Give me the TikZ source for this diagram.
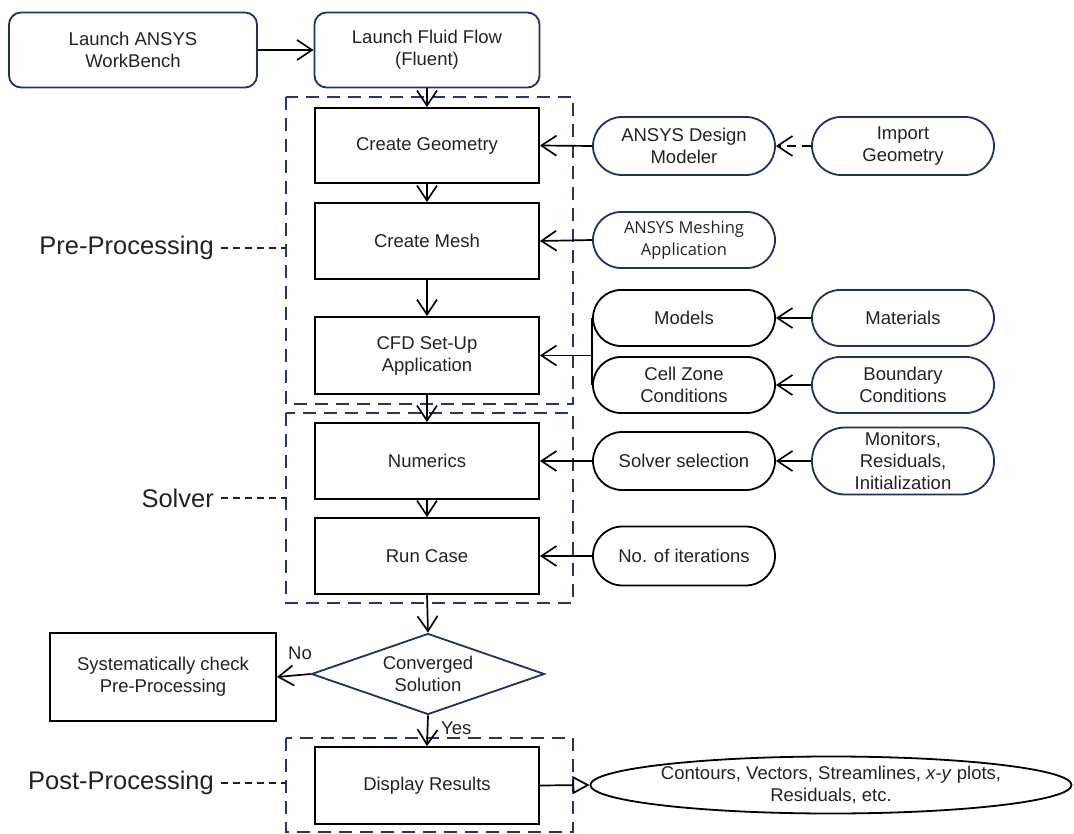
\documentclass[tikz,border=0pt]{standalone}
\usepackage{fontspec}
\setmainfont{Liberation Sans}
\newfontfamily\meshfont{Open Sans}
\usetikzlibrary{arrows.meta,shapes.geometric}
\definecolor{navy}{HTML}{22305E}
\definecolor{dashnavy}{HTML}{2A3468}
\definecolor{txt}{HTML}{222222}
\begin{document}
\begin{tikzpicture}[x=1pt,y=-1pt,
  font=\fontsize{18.5}{22}\selectfont, text=txt,
  every node/.style={align=center, inner sep=0pt},
  launchbox/.style={draw=navy, line width=1.8pt, rounded corners=12pt, minimum width=#1, minimum height=75pt},
  mainbox/.style={draw=black, line width=1.8pt, minimum width=224pt, minimum height=#1},
  pill/.style={draw=#1, line width=1.8pt, rounded corners=28pt, minimum width=182pt, minimum height=56pt},
  pilltall/.style={draw=#1, line width=1.8pt, rounded corners=33pt, minimum width=182pt, minimum height=67pt},
  arr/.style={line width=1.7pt, -{Straight Barb[length=15pt,width=20pt,line width=1.7pt]}},
  grp/.style={draw=dashnavy, line width=1.8pt, dash pattern=on 13pt off 8pt},
  lead/.style={draw=txt, line width=1.2pt, dash pattern=on 7pt off 5pt},
  grplabel/.style={font=\fontsize{25.5}{30}\selectfont, anchor=east}
]
\useasboundingbox (0,0) rectangle (1074,834);

% group boxes
\draw[grp] (286,97) rectangle (573,404);
\draw[grp] (286,413) rectangle (573,603);
\draw[grp] (286,738) rectangle (573,832);

% top row
\node[launchbox=248pt] (wb) at (133,50) {Launch ANSYS\\WorkBench};
\node[launchbox=225pt] (ff) at (427,50) {Launch Fluid Flow\\(Fluent)};

% main column
\node[mainbox=75pt] (cg) at (427,145.5) {Create Geometry};
\node[mainbox=76pt] (cm) at (427,241) {Create Mesh};
\node[mainbox=77pt] (cfd) at (427,355.5) {CFD Set-Up\\Application};
\node[mainbox=76pt] (num) at (427,461) {Numerics};
\node[mainbox=76pt] (rc) at (427,556) {Run Case};
\node[draw=navy, line width=1.8pt, diamond, aspect=2.88, minimum width=233pt, minimum height=81pt] (dia) at (428,674) {Converged\\Solution};
\node[draw=black, line width=1.8pt, minimum width=226pt, minimum height=88pt] (sys) at (163,677) {Systematically check\\Pre-Processing};
\node[mainbox=77pt] (dr) at (427,785.5) {Display Results};
\node[draw=black, line width=1.8pt, ellipse, minimum width=480pt, minimum height=57pt] (ell) at (831,785) {Contours, Vectors, Streamlines, \textit{x-y} plots,\\Residuals, etc.};

% side pills
\node[pill=navy, minimum height=58pt, rounded corners=29pt] (dm) at (684,146) {ANSYS Design\\Modeler};
\node[pill=navy, minimum height=58pt, rounded corners=29pt] (imp) at (903,146) {Import\\Geometry};
\node[pill=navy] (mesh) at (684,240) {\meshfont\fontsize{16.5}{22}\selectfont ANSYS Meshing\\\meshfont\fontsize{16.5}{22}\selectfont Application};
\node[pill=black] (models) at (684,318) {Models};
\node[pill=navy] (mat) at (903,318) {Materials};
\node[pill=black] (cz) at (684,385) {Cell Zone\\Conditions};
\node[pill=navy] (bc) at (903,385) {Boundary\\Conditions};
\node[pill=black, minimum height=58pt, rounded corners=29pt] (sol) at (684,461) {Solver selection};
\node[pilltall=navy] (mon) at (903,461) {Monitors,\\Residuals,\\Initialization};
\node[pill=black, minimum height=59pt, rounded corners=29.5pt] (iter) at (684,556) {No. of iterations};

% group labels
\node[grplabel] (lpre) at (214,248) {Pre-Processing};
\node[grplabel] (lsol) at (214,498) {Solver};
\node[grplabel] (lpost) at (214,783) {Post-Processing};
\coordinate (gpre) at (286,248);
\coordinate (gsol) at (286,498);
\coordinate (gpost) at (286,783);
\draw[lead] ([xshift=7pt]lpre.east) -- (gpre);
\draw[lead] ([xshift=7pt]lsol.east) -- (gsol);
\draw[lead] ([xshift=7pt]lpost.east) -- (gpost);

% connectors
\draw[arr] (wb.east) -- (ff.west);
\draw[arr] (ff.south) -- (cg.north);
\draw[arr] (cg.south) -- (cm.north);
\draw[arr] (cm.south) -- (cfd.north);
\draw[arr] (cfd.south) -- (num.north);
\draw[arr] (num.south) -- (rc.north);
\draw[arr] (rc.south) -- (dia.north);
\draw[arr] (dia.south) -- (dr.north);
\node[anchor=west] (yes) at (441,728) {Yes};
\draw[arr] (dia.west) -- (sys.east);
\node (no) at (300,653) {No};

\draw[arr] (dm.west) -- (cg.east);
\draw[arr, dash pattern=on 9pt off 6pt] (imp.west) -- (dm.east);
\draw[arr] (mesh.west) -- (cm.east);
\coordinate (br) at (models.west |- cfd.east);
\draw[line width=1.7pt] (models.west) -- (cz.west);
\draw[arr] (br) -- (cfd.east);
\draw[arr] (mat.west) -- (models.east);
\draw[arr] (bc.west) -- (cz.east);
\draw[arr] (sol.west) -- (num.east);
\draw[arr] (mon.west) -- (sol.east);
\draw[arr] (iter.west) -- (rc.east);
\draw[line width=1.7pt, -{Triangle[open,length=17pt,width=18pt,line width=1.7pt]}] (dr.east) -- (ell.west);
\end{tikzpicture}
\end{document}
